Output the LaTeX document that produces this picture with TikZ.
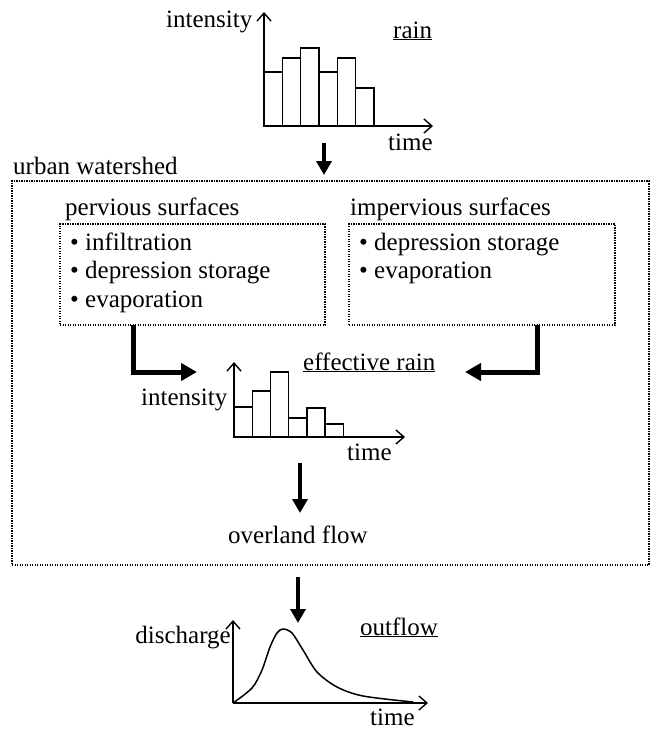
\documentclass[tikz,border=0pt]{standalone}
\usepackage{fontspec}
\setmainfont{Liberation Serif}
\usetikzlibrary{arrows.meta,positioning}
\newcommand{\uwfont}{\fontsize{25}{28.5}\selectfont}
\tikzset{
  uwlabel/.style={inner sep=0pt,font=\uwfont,anchor=base west},
  uwbox/.style={
    draw,
    dash pattern=on 1.2pt off 1.3pt,
    line width=1.3pt,
    inner sep=0pt
  },
  uwaxis/.style={-{Straight Barb[length=8pt,width=14pt]},line width=1.4pt},
  uwbar/.style={draw,line width=1.4pt},
  uwflow/.style={-{Triangle[length=16pt,width=17pt]},line width=5pt},
  uwdown/.style={-{Triangle[length=14pt,width=15pt]},line width=3.5pt}
}

\begin{document}
\begin{tikzpicture}[x=1pt,y=-1pt]
  \useasboundingbox (0,0) rectangle (651,731);

  % rain hyetograph
  \foreach \top [count=\i] in {72,58,48,72,58,88}
    \draw[uwbar] ({264+18.3*(\i-1)},126) rectangle ({264+18.3*\i},\top);
  \coordinate (rainorig) at (264,126);
  \draw[uwaxis] (rainorig) -- (264,12);
  \draw[uwaxis] (rainorig) -- (433,126);
  \node[uwlabel] (rainy) at (166,27) {intensity};
  \node[uwlabel] (rainx) at (388,150) {time};
  \node[uwlabel] (raintitle) at (393,38) {\underline{rain}};

  % watershed
  \node[uwbox,minimum width=637pt,minimum height=384pt] (urban) at (330.5,373) {};
  \node[uwlabel] (urbantitle) at (13,174) {urban watershed};
  \node[uwbox,minimum width=265pt,minimum height=101pt] (perv) at (192.5,274.5) {};
  \node[uwbox,minimum width=266pt,minimum height=101pt] (imperv) at (482,274.5) {};
  \node[uwlabel] (pervtitle) at (65,215) {pervious surfaces};
  \node[uwlabel] (impervtitle) at (350,215) {impervious surfaces};
  \foreach \txt [count=\k] in {infiltration,depression storage,evaporation}
    \node[uwlabel] (perv\k) at (70,{250+28.5*(\k-1)}) {\textbullet\ \txt};
  \foreach \txt [count=\k] in {depression storage,evaporation}
    \node[uwlabel] (imperv\k) at (359,{250+28*(\k-1)}) {\textbullet\ \txt};

  % effective rain
  \foreach \top [count=\i] in {407,391,372,418,408,424}
    \draw[uwbar] ({234+18.2*(\i-1)},437) rectangle ({234+18.2*\i},\top);
  \coordinate (efforig) at (234,437);
  \draw[uwaxis] (efforig) -- (234,362);
  \draw[uwaxis] (efforig) -- (405,437);
  \node[uwlabel] (effy) at (141,405) {intensity};
  \node[uwlabel] (effx) at (347,460) {time};
  \node[uwlabel] (efftitle) at (303,370) {\underline{effective rain}};
  \node[uwlabel] (overland) at (228,543) {overland flow};

  % outflow hydrograph
  \coordinate (outorig) at (233,703);
  \draw[line width=1.5pt] plot[smooth,tension=0.5] coordinates {
    (233,703) (252,688) (262,670) (270,647) (277,633) (283,629)
    (292,633) (303,650) (317,672) (337,687) (363,696) (413,702)};
  \draw[uwaxis] (outorig) -- (233,620);
  \draw[uwaxis] (outorig) -- (428,703);
  \node[uwlabel,anchor=base east] (outy) at (231,643) {discharge};
  \node[uwlabel] (outx) at (370,725) {time};
  \node[uwlabel] (outtitle) at (360,635) {\underline{outflow}};

  % arrows
  \coordinate (raintail) at (324,143);
  \coordinate (urbanin) at (324,175);
  \coordinate (pervout) at (133,325);
  \coordinate (effinl) at (197,372);
  \coordinate (impervout) at (537,325);
  \coordinate (effinr) at (465,372);
  \coordinate (efftail) at (300,463);
  \coordinate (overin) at (300,513);
  \coordinate (urbanout) at (298,577);
  \coordinate (outin) at (298,623);
  \draw[uwdown] (raintail) -- (urbanin);
  \draw[uwflow] (pervout) |- (effinl);
  \draw[uwflow] (impervout) |- (effinr);
  \draw[uwdown] (efftail) -- (overin);
  \draw[uwdown] (urbanout) -- (outin);
\end{tikzpicture}
\end{document}
